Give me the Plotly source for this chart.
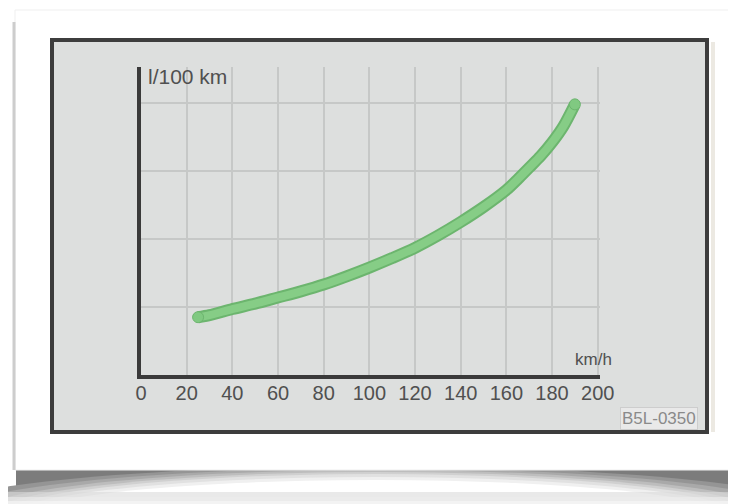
import plotly.graph_objects as go

# ---- data ----
speed_kmh = [25, 30, 40, 50, 60, 70, 80, 90, 100, 110, 120, 130, 140, 150, 160, 165, 170, 175, 180, 185, 190]
consumption = [0.85, 0.88, 0.97, 1.05, 1.14, 1.23, 1.33, 1.45, 1.58, 1.72, 1.87, 2.05, 2.25, 2.47, 2.72, 2.88, 3.05, 3.22, 3.42, 3.66, 3.98]
x_ticks = [0, 20, 40, 60, 80, 100, 120, 140, 160, 180, 200]
y_grid = [1, 2, 3, 4]
y_label = "l/100 km"
x_label = "km/h"
code_label = "B5L-0350"

# page body adds an 8px margin; figure coordinates are offset by it
OFF = 8
W, H = 736 - OFF, 504 - OFF
# screen-pixel layout of the plot area: x 141..600, y 67..375
L, T = 141 - OFF, 67 - OFF
R = W - (600 - OFF)
B = H - (375 - OFF)
PW, PH = W - L - R, H - T - B


def px(xs):
    return (xs - OFF - L) / PW


def py(ys):
    return (H - B - (ys - OFF)) / PH


FONT = "Liberation Sans, Arial"

fig = go.Figure()

# curve outline + fill
fig.add_trace(go.Scatter(x=speed_kmh, y=consumption, mode="lines",
                         line=dict(color="#6cb56e", width=12, shape="spline", smoothing=0.8),
                         hoverinfo="skip", showlegend=False))
fig.add_trace(go.Scatter(x=speed_kmh, y=consumption, mode="lines",
                         line=dict(color="#86cd86", width=8, shape="spline", smoothing=0.8),
                         hoverinfo="skip", showlegend=False))
fig.add_trace(go.Scatter(x=[speed_kmh[0], speed_kmh[-1]], y=[consumption[0], consumption[-1]],
                         mode="markers", marker=dict(color="#80c981", size=11,
                                                     line=dict(color="#6cb56e", width=1)),
                         hoverinfo="skip", showlegend=False))

shapes = []
# card shadow (bottom, curled) built from nested solid ellipses
shapes.append(dict(type="rect", xref="paper", yref="paper", layer="below",
                   x0=px(16), x1=px(760), y0=py(470), y1=py(504),
                   fillcolor="#7c7c7c", line=dict(width=0)))
for top, rx, col in [(466, 470, "#959595"), (468, 440, "#a9a9a9"), (470, 415, "#bdbdbd"),
                     (472, 398, "#d0d0d0"), (474, 386, "#e1e1e1"), (477, 375, "#f0f0f0"),
                     (480, 362, "#ffffff")]:
    ry = 520 - top
    shapes.append(dict(type="circle", xref="paper", yref="paper", layer="below",
                       x0=px(376 - rx), x1=px(376 + rx), y0=py(top), y1=py(520 + ry),
                       fillcolor=col, line=dict(width=0)))
for y0, col in [(492, "#dadada"), (497, "#ececec"), (501, "#f8f8f8")]:
    shapes.append(dict(type="rect", xref="paper", yref="paper", layer="below",
                       x0=px(0), x1=px(760), y0=py(y0), y1=py(504),
                       fillcolor=col, opacity=0.6, line=dict(width=0)))
# card
shapes.append(dict(type="rect", xref="paper", yref="paper", layer="below",
                   x0=px(15), x1=px(760), y0=py(10), y1=py(470),
                   fillcolor="white", line=dict(color="#efefef", width=1)))
shapes.append(dict(type="line", xref="paper", yref="paper", layer="below",
                   x0=px(14), x1=px(14), y0=py(22), y1=py(470),
                   line=dict(color="#cdcdcd", width=3)))
# panel
shapes.append(dict(type="rect", xref="paper", yref="paper", layer="below",
                   x0=px(52), x1=px(707), y0=py(40), y1=py(432),
                   fillcolor="#dddfde", line=dict(color="#3d3d3d", width=4)))
shapes.append(dict(type="line", xref="paper", yref="paper", layer="below",
                   x0=px(713), x1=px(713), y0=py(42), y1=py(432),
                   line=dict(color="#ece9e2", width=4)))

annotations = [
    dict(text=y_label, xref="paper", yref="paper", x=px(146), y=py(76),
         xanchor="left", yanchor="middle", showarrow=False,
         font=dict(size=21, color="#505050", family=FONT)),
    dict(text=x_label, xref="paper", yref="paper", x=px(614), y=py(359),
         xanchor="right", yanchor="middle", showarrow=False,
         font=dict(size=17, color="#505050", family=FONT)),
    dict(text=code_label, xref="paper", yref="paper", x=px(659), y=py(418),
         xanchor="center", yanchor="middle", showarrow=False,
         bgcolor="#e9e9e9", bordercolor="#cdcdcd", borderwidth=1, borderpad=1,
         font=dict(size=17, color="#8a8a8a", family=FONT)),
]

fig.update_layout(
    width=W, height=H,
    margin=dict(l=L, r=R, t=T, b=B, pad=0),
    paper_bgcolor="white",
    plot_bgcolor="rgba(0,0,0,0)",
    shapes=shapes,
    annotations=annotations,
    showlegend=False,
    xaxis=dict(range=[0, 201], tickvals=x_ticks, ticktext=[str(v) for v in x_ticks],
               showgrid=True, gridcolor="#c6c8c7", gridwidth=1.5, zeroline=False,
               showline=True, linecolor="#3a3a3a", linewidth=4, ticks="",
               ticklabelstandoff=-3,
               tickfont=dict(size=20, color="#505050", family=FONT),
               fixedrange=True),
    yaxis=dict(range=[0, PH / 68.0], tickvals=y_grid, showticklabels=False,
               showgrid=True, gridcolor="#c6c8c7", gridwidth=1.5, zeroline=False,
               showline=True, linecolor="#3a3a3a", linewidth=4, ticks="",
               fixedrange=True),
)

fig.write_html("out.html")
